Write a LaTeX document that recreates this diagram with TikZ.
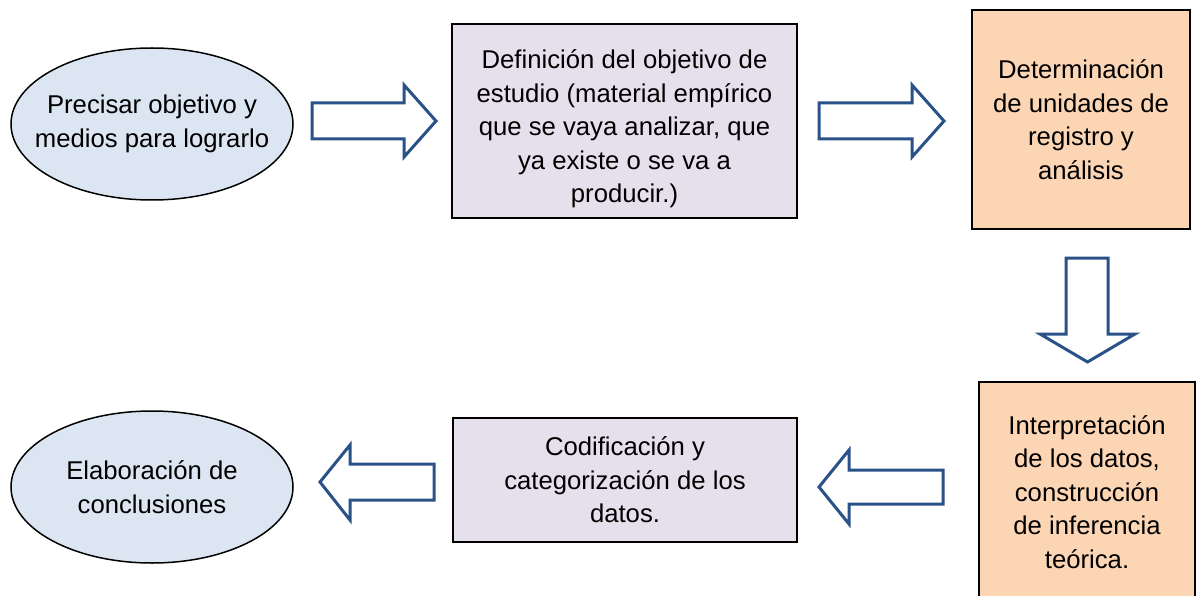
\documentclass[tikz,border=0pt]{standalone}
\usepackage{fontspec}
\setmainfont{Liberation Sans}
\usetikzlibrary{shapes.geometric}
\definecolor{ovalblue}{HTML}{DCE6F2}
\definecolor{boxlilac}{HTML}{E6E0EC}
\definecolor{boxpeach}{HTML}{FCD5B5}
\definecolor{arrowblue}{HTML}{2A5288}
\begin{document}
\begin{tikzpicture}[x=1pt,y=-1pt,
  every node/.style={font=\fontsize{25.7}{33.5}\selectfont, align=center, inner sep=0pt},
  oval/.style={ellipse, draw=black, line width=1.5pt, fill=ovalblue, inner xsep=-20pt, minimum width=282pt, minimum height=152pt},
  lilac/.style={rectangle, draw=black, line width=2pt, fill=boxlilac},
  peach/.style={rectangle, draw=black, line width=2pt, fill=boxpeach},
  blockarrow/.style={draw=arrowblue, line width=3pt, fill=white, line join=miter}]
\useasboundingbox (0,0) rectangle (1196,596);
\fill[white] (0,0) rectangle (1196,596);

\node[oval] (precisar) at (152,124) {Precisar objetivo y\\medios para lograrlo};
\node[lilac, minimum width=345pt, minimum height=194pt] (definicion) at (624.5,121) {};
\node (definiciontext) at ([yshift=-8pt]definicion.center)
  {Definición del objetivo de\\estudio (material empírico\\que se vaya analizar, que\\ya existe o se va a\\producir.)};
\node[peach, minimum width=218pt, minimum height=219pt] (determinacion) at (1081,119.5)
  {Determinación\\de unidades de\\registro y\\análisis};
\node[peach, minimum width=216pt, minimum height=220pt] (interpretacion) at (1087,492)
  {Interpretación\\de los datos,\\construcción\\de inferencia\\teórica.};
\node[lilac, minimum width=344pt, minimum height=124pt] (codificacion) at (625,480)
  {Codificación y\\categorización de los\\datos.};
\node[oval] (elaboracion) at (152,487) {Elaboración de\\conclusiones};

% block arrows
\draw[blockarrow] (312,103) -- (404,103) -- (404,85) -- (436,121) -- (404,157) -- (404,139) -- (312,139) -- cycle;
\draw[blockarrow] (819,103) -- (912,103) -- (912,85) -- (944,121) -- (912,157) -- (912,139) -- (819,139) -- cycle;
\draw[blockarrow] (1066,258) -- (1108,258) -- (1108,334) -- (1135,334) -- (1087.5,362) -- (1040,334) -- (1066,334) -- cycle;
\draw[blockarrow] (943,470) -- (849,470) -- (849,450) -- (819,487) -- (849,524) -- (849,504) -- (943,504) -- cycle;
\draw[blockarrow] (434,464) -- (350,464) -- (350,445) -- (320,482) -- (350,520) -- (350,500) -- (434,500) -- cycle;
\end{tikzpicture}
\end{document}
